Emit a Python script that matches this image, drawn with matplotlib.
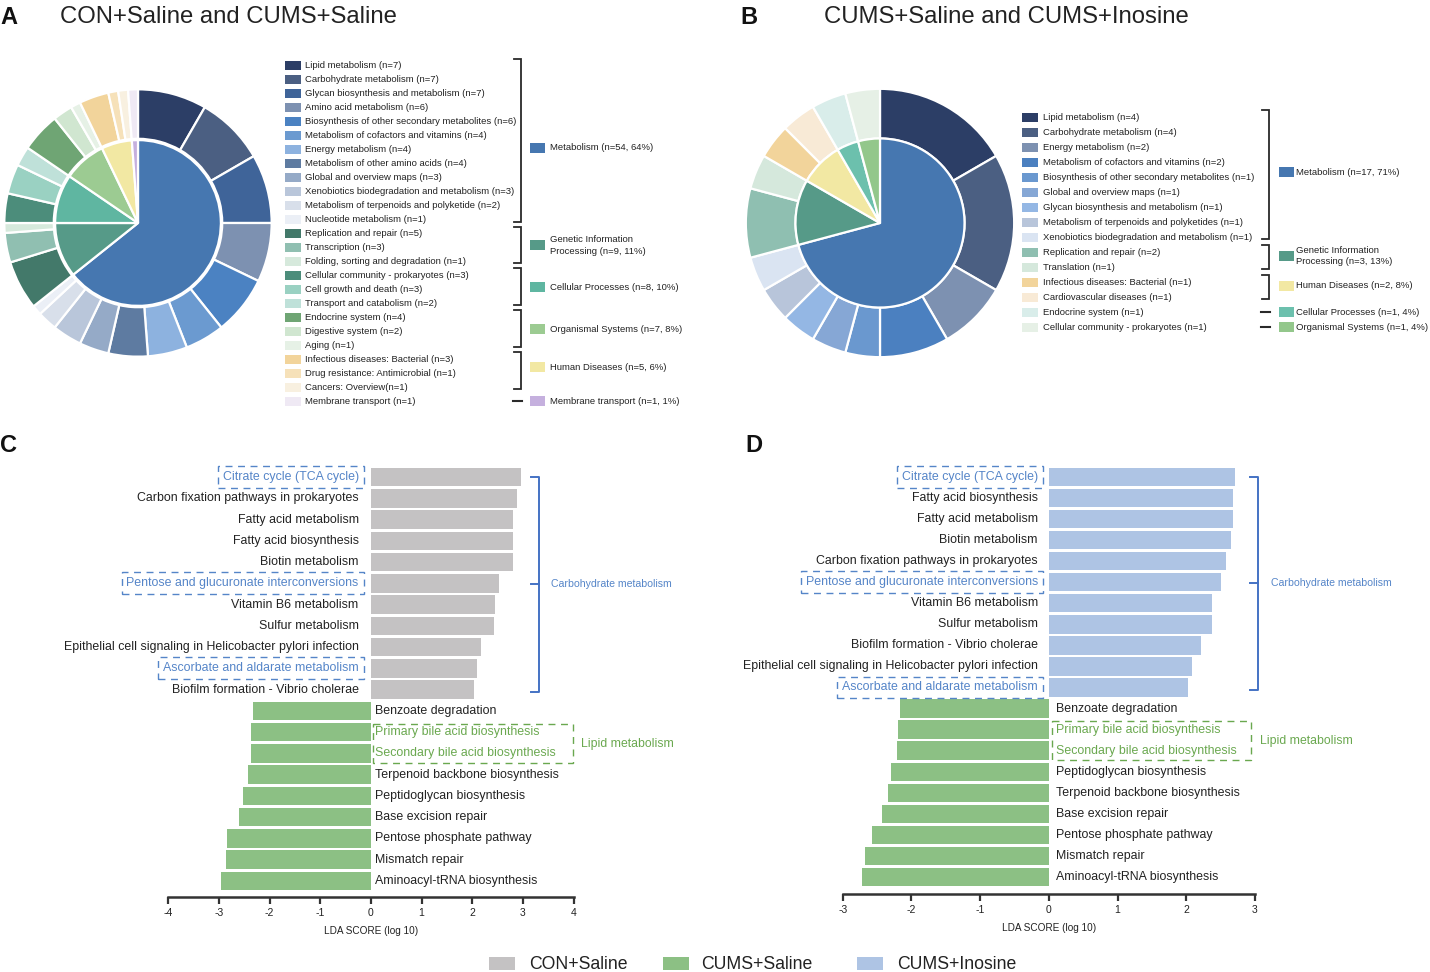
import matplotlib
matplotlib.use('Agg')
import numpy as np
import matplotlib.pyplot as plt
from matplotlib.patches import Rectangle

plt.rcParams['font.family'] = ['Liberation Sans', 'DejaVu Sans']
plt.rcParams['axes.unicode_minus'] = False

W, H = 1430, 972

# ---------------- panel A : CON+Saline vs CUMS+Saline
a_sub_labels = ['Lipid metabolism (n=7)', 'Carbohydrate metabolism (n=7)',
                'Glycan biosynthesis and metabolism (n=7)', 'Amino acid metabolism (n=6)',
                'Biosynthesis of other secondary metabolites (n=6)',
                'Metabolism of cofactors and vitamins (n=4)', 'Energy metabolism (n=4)',
                'Metabolism of other amino acids (n=4)', 'Global and overview maps (n=3)',
                'Xenobiotics biodegradation and metabolism (n=3)',
                'Metabolism of terpenoids and polyketide (n=2)', 'Nucleotide metabolism (n=1)',
                'Replication and repair (n=5)', 'Transcription (n=3)',
                'Folding, sorting and degradation (n=1)', 'Cellular community - prokaryotes (n=3)',
                'Cell growth and death (n=3)', 'Transport and catabolism (n=2)',
                'Endocrine system (n=4)', 'Digestive system (n=2)', 'Aging (n=1)',
                'Infectious diseases: Bacterial (n=3)', 'Drug resistance: Antimicrobial (n=1)',
                'Cancers: Overview(n=1)', 'Membrane transport (n=1)']
a_sub_n = [7, 7, 7, 6, 6, 4, 4, 4, 3, 3, 2, 1, 5, 3, 1, 3, 3, 2, 4, 2, 1, 3, 1, 1, 1]
a_group_labels = ['Metabolism (n=54, 64%)', 'Genetic Information\nProcessing (n=9, 11%)',
                  'Cellular Processes (n=8, 10%)', 'Organismal Systems (n=7, 8%)',
                  'Human Diseases (n=5, 6%)', 'Membrane transport (n=1, 1%)']
a_group_n = [54, 9, 8, 7, 5, 1]
a_group_rows = [12, 3, 3, 3, 3, 1]

# ---------------- panel B : CUMS+Saline vs CUMS+Inosine
b_sub_labels = ['Lipid metabolism (n=4)', 'Carbohydrate metabolism (n=4)',
                'Energy metabolism (n=2)', 'Metabolism of cofactors and vitamins (n=2)',
                'Biosynthesis of other secondary metabolites (n=1)',
                'Global and overview maps (n=1)', 'Glycan biosynthesis and metabolism (n=1)',
                'Metabolism of terpenoids and polyketides (n=1)',
                'Xenobiotics biodegradation and metabolism (n=1)',
                'Replication and repair (n=2)', 'Translation (n=1)',
                'Infectious diseases: Bacterial (n=1)', 'Cardiovascular diseases (n=1)',
                'Endocrine system (n=1)', 'Cellular community - prokaryotes (n=1)']
b_sub_n = [4, 4, 2, 2, 1, 1, 1, 1, 1, 2, 1, 1, 1, 1, 1]
b_group_labels = ['Metabolism (n=17, 71%)', 'Genetic Information\nProcessing (n=3, 13%)',
                  'Human Diseases (n=2, 8%)', 'Cellular Processes (n=1, 4%)',
                  'Organismal Systems (n=1, 4%)']
b_group_n = [17, 3, 2, 1, 1]
b_group_rows = [9, 2, 2, 1, 1]

# ---------------- panel C : LDA scores
c_up_labels = ['Citrate cycle (TCA cycle)', 'Carbon fixation pathways in prokaryotes',
               'Fatty acid metabolism', 'Fatty acid biosynthesis', 'Biotin metabolism',
               'Pentose and glucuronate interconversions', 'Vitamin B6 metabolism',
               'Sulfur metabolism', 'Epithelial cell signaling in Helicobacter pylori infection',
               'Ascorbate and aldarate metabolism', 'Biofilm formation - Vibrio cholerae']
c_up_lda = [2.96, 2.88, 2.81, 2.80, 2.80, 2.53, 2.45, 2.43, 2.18, 2.09, 2.03]
c_down_labels = ['Benzoate degradation', 'Primary bile acid biosynthesis',
                 'Secondary bile acid biosynthesis', 'Terpenoid backbone biosynthesis',
                 'Peptidoglycan biosynthesis', 'Base excision repair',
                 'Pentose phosphate pathway', 'Mismatch repair', 'Aminoacyl-tRNA biosynthesis']
c_down_lda = [-2.33, -2.36, -2.37, -2.42, -2.53, -2.61, -2.85, -2.87, -2.96]

# ---------------- panel D : LDA scores
d_up_labels = ['Citrate cycle (TCA cycle)', 'Fatty acid biosynthesis', 'Fatty acid metabolism',
               'Biotin metabolism', 'Carbon fixation pathways in prokaryotes',
               'Pentose and glucuronate interconversions', 'Vitamin B6 metabolism',
               'Sulfur metabolism', 'Biofilm formation - Vibrio cholerae',
               'Epithelial cell signaling in Helicobacter pylori infection',
               'Ascorbate and aldarate metabolism']
d_up_lda = [2.71, 2.68, 2.68, 2.65, 2.58, 2.50, 2.38, 2.38, 2.22, 2.08, 2.03]
d_down_labels = ['Benzoate degradation', 'Primary bile acid biosynthesis',
                 'Secondary bile acid biosynthesis', 'Peptidoglycan biosynthesis',
                 'Terpenoid backbone biosynthesis', 'Base excision repair',
                 'Pentose phosphate pathway', 'Mismatch repair', 'Aminoacyl-tRNA biosynthesis']
d_down_lda = [-2.16, -2.20, -2.21, -2.30, -2.34, -2.43, -2.58, -2.67, -2.72]

carb_marked = ['Citrate cycle (TCA cycle)', 'Pentose and glucuronate interconversions',
               'Ascorbate and aldarate metabolism']
lipid_marked = ['Primary bile acid biosynthesis', 'Secondary bile acid biosynthesis']

group_names = ['CON+Saline', 'CUMS+Saline', 'CUMS+Inosine']

# colours
a_sub_colors = ['#2c3e66', '#4b5f82', '#3f6499', '#7d91b1', '#4b82c2', '#6b9ad0', '#8db2df',
                '#5e7ba1', '#95aac7', '#b9c6da', '#d8dfea', '#ebeff6',
                '#43796a', '#90bfb1', '#d6e9dc', '#4c8d7b', '#9ad1c2', '#bfe1d9',
                '#6fa574', '#d0e6d0', '#e6f1e6', '#f2d49b', '#f6e1b9', '#f8f0e0', '#efe9f4']
a_group_colors = ['#4677b0', '#569a88', '#5fb6a1', '#9ccb92', '#f2e8a3', '#c5b0de']
b_sub_colors = ['#2c3e66', '#4b5f82', '#7d91b1', '#4b80c0', '#6a98cf', '#86a7d5', '#94b7e4',
                '#b8c5da', '#dae4f2', '#8fbfb1', '#d5e8dc', '#f2d49b', '#f8ead6', '#d9edea',
                '#e6f0e6']
b_group_colors = ['#4677b0', '#569a88', '#f2e8a3', '#6cc0ad', '#93c78b']
bar_colors = ['#c4c2c3', '#8cc084', '#aec4e4']
blue_txt = '#5585c8'
green_txt = '#6aa84f'
dark = '#222222'


def px(x, y, w, h):
    # pixel box (top-left origin) -> figure fraction
    return [x / W, 1 - (y + h) / H, w / W, h / H]


fig = plt.figure(figsize=(W / 100, H / 100), dpi=100)
ov = fig.add_axes([0, 0, 1, 1])
ov.set_xlim(0, W)
ov.set_ylim(H, 0)
ov.axis('off')


def draw_pie(cx, cy, r, sub_n, sub_colors, grp_n, grp_colors, inner_r):
    ax = fig.add_axes(px(cx - r, cy - r, 2 * r, 2 * r))
    ax.pie(sub_n, colors=sub_colors, radius=1.0, startangle=90, counterclock=False,
           wedgeprops=dict(width=0.37, edgecolor='white', linewidth=1.6))
    ax.pie(grp_n, colors=grp_colors, radius=inner_r, startangle=90, counterclock=False,
           wedgeprops=dict(edgecolor='white', linewidth=1.6))
    ax.set_xlim(-1.01, 1.01)
    ax.set_ylim(-1.01, 1.01)
    ax.set_aspect('equal')


def draw_key(x_sq, x_txt, y0, dy, labels, colors):
    for i, (lab, col) in enumerate(zip(labels, colors)):
        y = y0 + i * dy
        ov.add_patch(Rectangle((x_sq, y - 4.5), 16, 9, fc=col, ec='none'))
        ov.text(x_txt, y, lab, fontsize=6.8, va='center', ha='left', color=dark)


def draw_groups(x_br, x_sq, x_txt, y0, dy, rows, labels, colors, shifts):
    start = 0
    for n_rows, lab, col, sh in zip(rows, labels, colors, shifts):
        first = y0 + start * dy
        last = y0 + (start + n_rows - 1) * dy
        if n_rows > 1:
            ov.plot([x_br - 7, x_br, x_br, x_br - 7], [first - 7, first - 7, last + 2, last + 2],
                    color='#2a2a2a', lw=1.3, solid_joinstyle='miter')
        else:
            ov.plot([x_br - 8, x_br + 1], [first, first], color='#2a2a2a', lw=1.5)
        ym = (first + last) / 2 + sh
        ov.add_patch(Rectangle((x_sq, ym - 5), 15, 10, fc=col, ec='none'))
        ov.text(x_txt, ym, lab, fontsize=6.8, va='center', ha='left', color=dark,
                linespacing=1.35)
        start += n_rows


# pies + keys
draw_pie(138, 223, 135, a_sub_n, a_sub_colors, a_group_n, a_group_colors, 0.62)
draw_key(285, 305, 66, 13.96, a_sub_labels, a_sub_colors)
draw_groups(521, 530, 550, 66, 13.96, a_group_rows, a_group_labels, a_group_colors,
            [5, -2, -2, -2, -6, 0])

draw_pie(880, 223, 135.5, b_sub_n, b_sub_colors, b_group_n, b_group_colors, 0.63)
draw_key(1022, 1043, 117.5, 14.98, b_sub_labels, b_sub_colors)
draw_groups(1269, 1279, 1296, 117.5, 14.98, b_group_rows, b_group_labels, b_group_colors,
            [-5, -4, -4, 0, 0])

# titles and panel letters
for x, y, s in [(0, 17, 'A'), (740, 17, 'B'), (0, 445, 'C'), (745, 445, 'D')]:
    ov.text(x, y, s, fontsize=17, fontweight='bold', va='center', ha='left', color='#111111')
ov.text(60, 17, 'CON+Saline and CUMS+Saline', fontsize=17.2, va='center', ha='left', color=dark)
ov.text(824, 17, 'CUMS+Saline and CUMS+Inosine', fontsize=17.2, va='center', ha='left',
        color=dark)


def draw_lda(box, ylims, xmax, up_labels, up_vals, down_labels, down_vals, up_color,
             gap_l, gap_r, br_x, tk, carb_x, lip_w, lip_x):
    ax = fig.add_axes(px(*box))
    vals = list(up_vals) + list(down_vals)
    labels = list(up_labels) + list(down_labels)
    y = np.arange(len(vals))
    cols = [up_color if v > 0 else bar_colors[1] for v in vals]
    ax.barh(y, vals, height=0.87, color=cols)
    ax.set_xlim(-xmax, xmax)
    ax.set_ylim(*ylims)
    ax.set_yticks([])
    ax.set_xticks(range(-xmax, xmax + 1))
    for s in ['top', 'left', 'right']:
        ax.spines[s].set_visible(False)
    ax.spines['bottom'].set_color('#333333')
    ax.spines['bottom'].set_linewidth(1.8)
    ax.tick_params(axis='x', length=5, width=1.6, color='#333333', labelsize=7.5, pad=3,
                   labelcolor=dark)
    ax.set_xlabel('LDA SCORE (log 10)', fontsize=7.2, labelpad=6, color=dark)

    dash = (0, (5, 4))
    for yi, (lab, v) in enumerate(zip(labels, vals)):
        if v > 0:
            kw = dict(ha='right', color=dark)
            if lab in carb_marked:
                kw = dict(ha='right', color=blue_txt,
                          bbox=dict(boxstyle='square,pad=0.4', fc='none', ec=blue_txt,
                                    lw=1.0, ls=dash))
            ax.text(gap_l, yi, lab, va='center', fontsize=8.9, **kw)
        else:
            col = green_txt if lab in lipid_marked else dark
            ax.text(gap_r, yi, lab, va='center', ha='left', fontsize=8.9, color=col)

    # carbohydrate bracket
    n_up = len(up_vals)
    top, bot = 0.0, n_up - 1 + 0.1
    ax.plot([br_x - tk, br_x, br_x, br_x - tk], [top, top, bot, bot], color='#4472c4',
            lw=1.4, clip_on=False)
    ax.plot([br_x - tk, br_x], [(top + bot) / 2] * 2, color='#4472c4', lw=1.4, clip_on=False)
    ax.text(carb_x, (top + bot) / 2, 'Carbohydrate metabolism', fontsize=7.6, color=blue_txt,
            va='center', ha='left')

    # lipid dashed box
    rows = [labels.index(l) for l in lipid_marked]
    ax.add_patch(Rectangle((0.05, min(rows) - 0.4), lip_w, max(rows) - min(rows) + 0.85,
                           fc='none', ec=green_txt, lw=1.0, ls=dash, clip_on=False))
    ax.text(lip_x, (min(rows) + max(rows)) / 2 + 0.05, 'Lipid metabolism', fontsize=8.8,
            color=green_txt, va='center', ha='left')


draw_lda((168.3, 455, 405.2, 442), (19.755, -1.035), 4, c_up_labels, c_up_lda,
         c_down_labels, c_down_lda, bar_colors[0], -0.24, 0.09, 3.32, 0.16, 3.56, 3.94, 4.15)
draw_lda((842.7, 455, 412.3, 439), (19.81, -1.045), 3, d_up_labels, d_up_lda,
         d_down_labels, d_down_lda, bar_colors[2], -0.16, 0.11, 3.04, 0.11, 3.23, 2.89, 3.08)

# bottom legend
for x_sq, x_txt, name, col in zip([489, 663, 857], [529, 701, 897], group_names, bar_colors):
    ov.add_patch(Rectangle((x_sq, 957), 26, 13, fc=col, ec='none'))
    ov.text(x_txt, 964, name, fontsize=12.7, va='center', ha='left', color=dark)

fig.savefig('out.png', dpi=100)
